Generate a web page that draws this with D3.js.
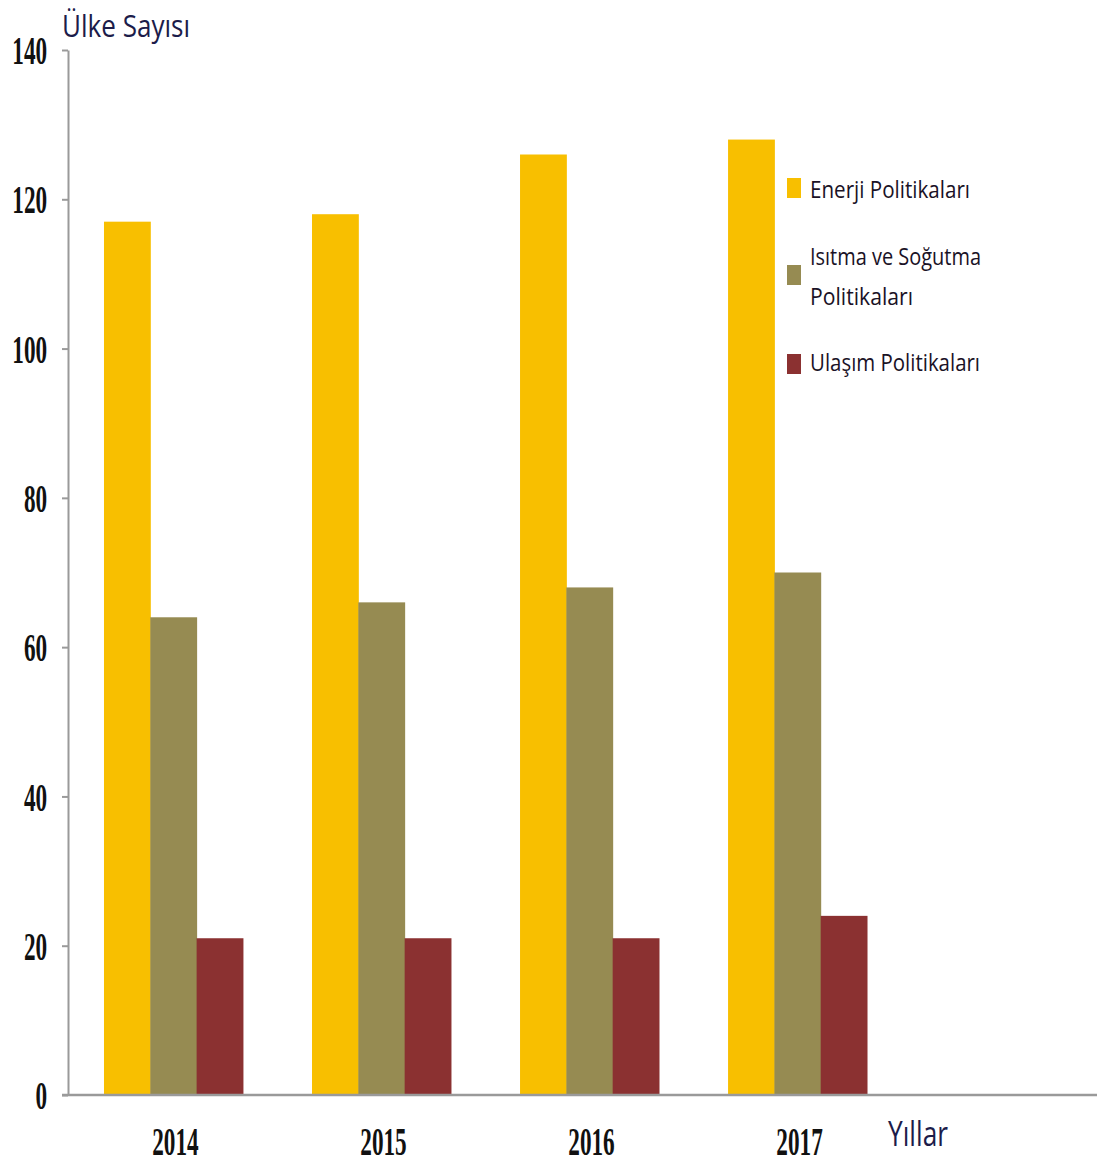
<!DOCTYPE html>
<html>
<head>
<meta charset="utf-8">
<script src="https://cdn.jsdelivr.net/npm/d3@7"></script>
<style>
  html, body { margin: 0; padding: 0; background: #fff; }
  svg { display: block; }
</style>
</head>
<body>
<svg id="chart" width="1105" height="1169"></svg>
<script>
// ---- data ----
const years = ["2014", "2015", "2016", "2017"];
const seriesNames = ["Enerji Politikaları", "Isıtma ve Soğutma Politikaları", "Ulaşım Politikaları"];
const enerji = [117, 118, 126, 128];
const isitma = [64, 66, 68, 70];
const ulasim = [21, 21, 21, 24];
const yTicks = [0, 20, 40, 60, 80, 100, 120, 140];
const colors = ["#F8BF00", "#968B52", "#8B3131"];

const seriesValues = [enerji, isitma, ulasim];
const rows = years.map((y, i) => ({ year: y, values: seriesValues.map(s => s[i]) }));

const svg = d3.select("#chart");
const axisX = 68, axisBottom = 1095, axisTop = 50;

const y = d3.scaleLinear().domain([0, 140]).range([axisBottom, axisTop]);
const x0 = d3.scaleBand().domain(years).range([axisX, 903]).paddingInner(0.332).paddingOuter(0.173);
const x1 = d3.scaleBand().domain(d3.range(seriesNames.length)).range([0, x0.bandwidth()]);

// bars
const g = svg.append("g");
g.selectAll("g.grp").data(rows).join("g")
  .attr("class", "grp")
  .attr("transform", d => `translate(${x0(d.year)},0)`)
  .selectAll("rect").data(d => d.values.map((v, i) => ({ v, i }))).join("rect")
  .attr("x", d => x1(d.i))
  .attr("width", x1.bandwidth() + 0.5)
  .attr("y", d => y(d.v))
  .attr("height", d => y(0) - y(d.v))
  .attr("fill", d => colors[d.i]);

// y axis
const yAxis = svg.append("g")
  .attr("transform", `translate(${axisX},0)`)
  .call(d3.axisLeft(y).tickValues(yTicks).tickSize(6).tickSizeOuter(0).tickFormat(d3.format("d")));
yAxis.select(".domain").attr("stroke", "#9a9a9a").attr("stroke-width", 2);
yAxis.selectAll(".tick line").attr("stroke", "#9a9a9a").attr("stroke-width", 2);
yAxis.selectAll(".tick text")
  .attr("x", -36)
  .attr("dy", "0.34em")
  .attr("font-family", "Liberation Serif, Times New Roman, serif")
  .attr("font-weight", "bold")
  .attr("font-size", 40)
  .attr("fill", "#111")
  .attr("transform", "scale(0.58,1)");

// x axis line
svg.append("line")
  .attr("x1", axisX - 6).attr("x2", 1097)
  .attr("y1", axisBottom).attr("y2", axisBottom)
  .attr("stroke", "#9a9a9a").attr("stroke-width", 2.5);

// x labels
svg.append("g").selectAll("text").data(years).join("text")
  .attr("transform", d => `translate(${x0(d) + x0.bandwidth() / 2 + 2},1155) scale(0.58,1)`)
  .attr("text-anchor", "middle")
  .attr("font-family", "Liberation Serif, Times New Roman, serif")
  .attr("font-weight", "bold")
  .attr("font-size", 40)
  .attr("fill", "#111")
  .text(d => d);

// axis titles
svg.append("text")
  .attr("x", 62).attr("y", 37)
  .attr("font-family", "Open Sans, sans-serif")
  .attr("font-size", 31)
  .attr("fill", "#1c1c4a")
  .attr("textLength", 128).attr("lengthAdjust", "spacingAndGlyphs")
  .text("Ülke Sayısı");

svg.append("text")
  .attr("x", 888).attr("y", 1146)
  .attr("font-family", "Open Sans, sans-serif")
  .attr("font-size", 34)
  .attr("fill", "#1c1c4a")
  .attr("textLength", 60).attr("lengthAdjust", "spacingAndGlyphs")
  .text("Yıllar");

// legend
const legend = svg.append("g");
const legendItems = [
  { name: seriesNames[0], lines: ["Enerji Politikaları"], sq: 178, ty: [198], lens: [160] },
  { name: seriesNames[1], lines: ["Isıtma ve Soğutma", "Politikaları"], sq: 265, ty: [265, 305], lens: [171, 103] },
  { name: seriesNames[2], lines: ["Ulaşım Politikaları"], sq: 354, ty: [371], lens: [170] }
];
legendItems.forEach((it, i) => {
  legend.append("rect")
    .attr("x", 787).attr("y", it.sq)
    .attr("width", 14).attr("height", 20)
    .attr("fill", colors[i]);
  it.lines.forEach((ln, j) => {
    legend.append("text")
      .attr("x", 810).attr("y", it.ty[j])
      .attr("font-family", "Open Sans, sans-serif")
      .attr("font-size", 23)
      .attr("fill", "#1a1226")
      .attr("textLength", it.lens[j]).attr("lengthAdjust", "spacingAndGlyphs")
      .text(ln);
  });
});
</script>
</body>
</html>
